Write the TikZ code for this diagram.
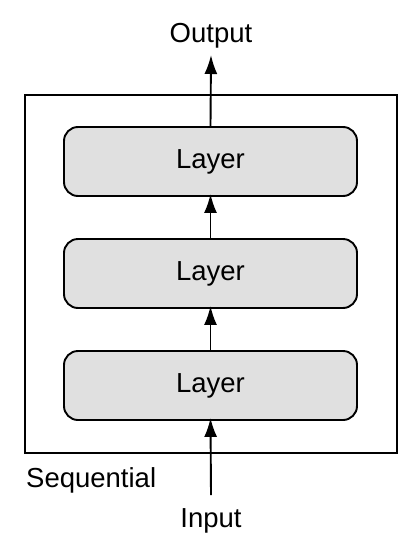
\documentclass[tikz,border=0pt]{standalone}
\usepackage{fontspec}
\setmainfont{Liberation Sans}
\usetikzlibrary{arrows.meta}

\begin{document}
\begin{tikzpicture}[x=1pt,y=-1pt,
	layer/.style={draw, line width=1.9pt, fill=black!12, rounded corners=14pt,
		minimum width=293pt, minimum height=69pt, font=\fontsize{27.5}{32}\selectfont},
	txt/.style={font=\fontsize{27.5}{32}\selectfont, inner sep=0pt},
	flow/.style={-{Latex[length=19pt,width=13pt]}, line width=1.9pt}]
	\useasboundingbox (0,0) rectangle (416,552);
	% outer box
	\draw[line width=1.5pt] (25,95) rectangle (397,453);
	\node[txt, anchor=base west] (seq) at (26,487) {Sequential};
	% layers
	\node[layer] (l1) at (210.5,161.5) {Layer};
	\node[layer] (l2) at (210.5,273.5) {Layer};
	\node[layer] (l3) at (210.5,385.5) {Layer};
	% input and output
	\node[txt, anchor=base] (out) at (211,42) {Output};
	\node[txt, anchor=base] (in) at (211,527) {Input};
	\coordinate (outtip) at (211,55);
	\coordinate (instart) at (211,495);
	\draw[flow] (instart) -- ([yshift=3pt]l3.south);
	\draw[flow] (l3.north) -- ([yshift=3pt]l2.south);
	\draw[flow] (l2.north) -- ([yshift=3pt]l1.south);
	\draw[flow] (l1.north) -- (outtip);
\end{tikzpicture}
\end{document}
